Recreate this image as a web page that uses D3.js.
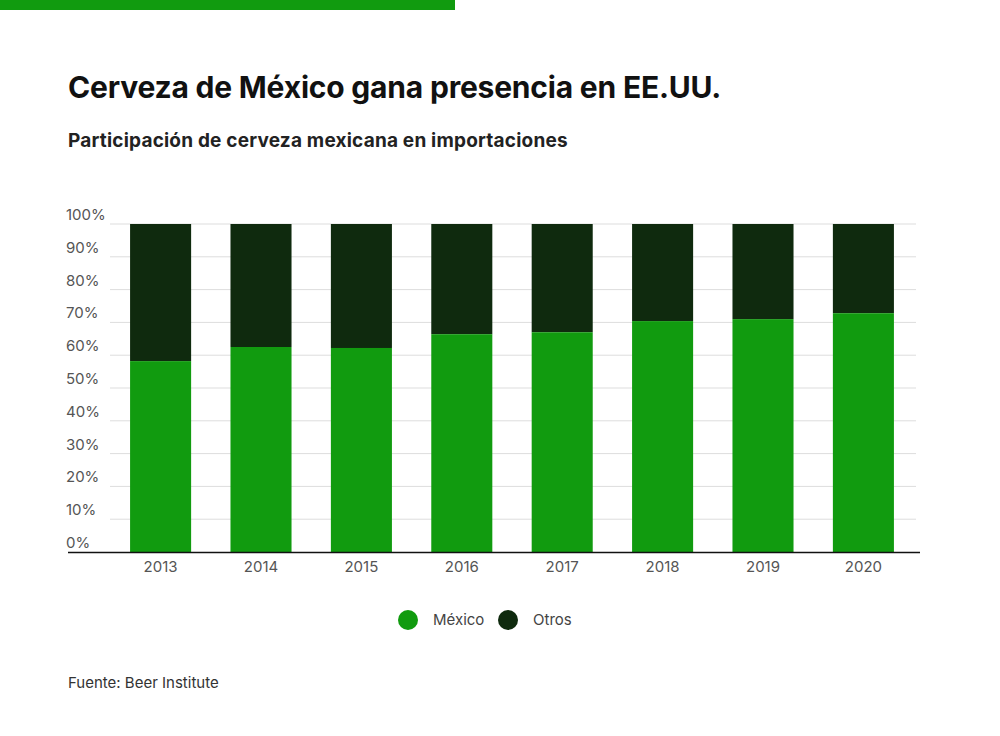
<!DOCTYPE html>
<html><head><meta charset="utf-8">
<script src="https://cdn.jsdelivr.net/npm/d3@7"></script>
<style>body{margin:0;background:#fff;font-family:Inter,"Noto Sans",sans-serif}</style>
</head><body><div id="chart"></div>
<script>
var years = ["2013","2014","2015","2016","2017","2018","2019","2020"];
var mexico = [58.2, 62.5, 62.2, 66.4, 67, 70.4, 71, 72.8];
var tickValues = [0,10,20,30,40,50,60,70,80,90,100];

var svg = d3.select("#chart").append("svg").attr("width",1000).attr("height",736);

svg.append("rect").attr("x",0).attr("y",0).attr("width",455).attr("height",10).attr("fill","#119b0f");

svg.append("text").attr("x",68).attr("y",98).text("Cerveza de México gana presencia en EE.UU.")
  .attr("font-size",30).attr("font-weight",700).attr("fill","#111").attr("letter-spacing",-0.2);
svg.append("text").attr("x",68).attr("y",147).text("Participación de cerveza mexicana en importaciones")
  .attr("font-size",19).attr("font-weight",700).attr("fill","#222").attr("letter-spacing",0.2);

var x = d3.scaleBand().domain(years).range([110,914]).paddingInner(0.392).paddingOuter(0.2);
var y = d3.scaleLinear().domain([0,100]).range([552,224]);

// gridlines
svg.selectAll(".grid").data(tickValues.slice(1)).enter().append("line")
  .attr("x1",110).attr("x2",916).attr("y1",d=>y(d)).attr("y2",d=>y(d))
  .attr("stroke","#ddd").attr("stroke-width",1);

svg.selectAll(".tl").data(tickValues).enter().append("text")
  .attr("x",66).attr("y",d=>y(d)-4).text(d=>d+"%")
  .attr("font-size",15).attr("fill","#555");

// Otros (top part)
svg.selectAll(".otros").data(years).enter().append("rect")
  .attr("x",d=>x(d)).attr("width",x.bandwidth())
  .attr("y",y(100)).attr("height",(d,i)=>y(mexico[i])-y(100))
  .attr("fill","#0f2a0e");
svg.selectAll(".mex").data(years).enter().append("rect")
  .attr("x",d=>x(d)).attr("width",x.bandwidth())
  .attr("y",(d,i)=>y(mexico[i])).attr("height",(d,i)=>y(0)-y(mexico[i]))
  .attr("fill","#119b0f");

svg.append("line").attr("x1",68).attr("x2",920).attr("y1",552.5).attr("y2",552.5)
  .attr("stroke","#111").attr("stroke-width",1.5);

svg.selectAll(".xl").data(years).enter().append("text")
  .attr("x",d=>x(d)+x.bandwidth()/2).attr("y",572).attr("text-anchor","middle")
  .text(d=>d).attr("font-size",15).attr("fill","#555");

// legend
var legend = [["México","#119b0f",408],["Otros","#0f2a0e",508]];
legend.forEach(function(l){
  svg.append("circle").attr("cx",l[2]).attr("cy",620).attr("r",10).attr("fill",l[1]);
  svg.append("text").attr("x",l[2]+25).attr("y",625).text(l[0]).attr("font-size",15).attr("fill","#444");
});

svg.append("text").attr("x",68).attr("y",688).text("Fuente: Beer Institute")
  .attr("font-size",15).attr("fill","#333");
</script></body></html>
